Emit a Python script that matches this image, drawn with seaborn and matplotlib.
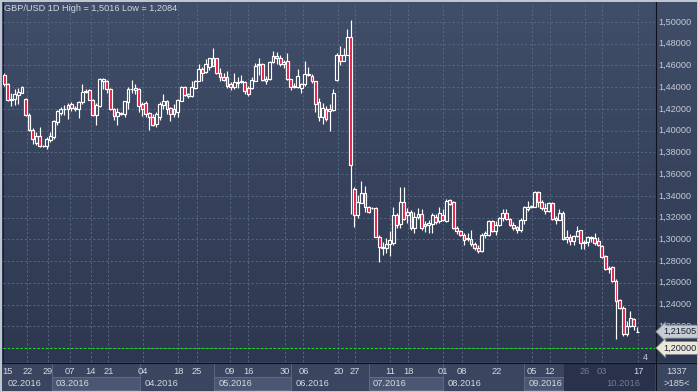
import numpy as np
import pandas as pd
import seaborn as sns
import matplotlib.pyplot as plt
from matplotlib.patches import Rectangle
from matplotlib.colors import LinearSegmentedColormap
from matplotlib.transforms import blended_transform_factory

# GBP/USD daily candles (oldest first)
opens = [
    1.4515, 1.4434, 1.4285, 1.4290, 1.4330, 1.4350, 1.4290, 1.4145, 1.4010, 1.3890,
    1.3950, 1.3862, 1.3860, 1.3910, 1.3940, 1.4080, 1.4160, 1.4195, 1.4200, 1.4245,
    1.4195, 1.4200, 1.4260, 1.4360, 1.4370, 1.4285, 1.4145, 1.4230, 1.4455, 1.4458,
    1.4380, 1.4200, 1.4137, 1.4165, 1.4150, 1.4260, 1.4380, 1.4370, 1.4385, 1.4245,
    1.4250, 1.4160, 1.4130, 1.4060, 1.4130, 1.4240, 1.4275, 1.4205, 1.4150, 1.4175,
    1.4275, 1.4400, 1.4335, 1.4320, 1.4395, 1.4460, 1.4565, 1.4540, 1.4590, 1.4595,
    1.4665, 1.4535, 1.4495, 1.4490, 1.4425, 1.4405, 1.4440, 1.4450, 1.4450, 1.4395,
    1.4395, 1.4460, 1.4605, 1.4610, 1.4460, 1.4480, 1.4635, 1.4690, 1.4665, 1.4610,
    1.4645, 1.4475, 1.4405, 1.4405, 1.4390, 1.4425, 1.4510, 1.4505, 1.4455, 1.4265,
    1.4125, 1.4200, 1.4180, 1.4190, 1.4470, 1.4700, 1.4645, 1.4700, 1.4860, 1.3465,
    1.3220, 1.3333, 1.3425, 1.3302, 1.3287, 1.3287, 1.3026, 1.2919, 1.2919, 1.2955,
    1.2965, 1.3226, 1.3140, 1.3342, 1.3226, 1.3250, 1.3103, 1.3201, 1.3232, 1.3127,
    1.3133, 1.3140, 1.3210, 1.3170, 1.3225, 1.3165, 1.3360, 1.3340, 1.3104, 1.3074,
    1.3043, 1.3000, 1.3003, 1.2961, 1.2922, 1.2891, 1.3040, 1.3043, 1.3165, 1.3074,
    1.3135, 1.3196, 1.3241, 1.3187, 1.3135, 1.3110, 1.3083, 1.3180, 1.3278, 1.3295,
    1.3302, 1.3440, 1.3348, 1.3287, 1.3257, 1.3333, 1.3196, 1.3180, 1.3241, 1.3000,
    1.3022, 1.2982, 1.3028, 1.3083, 1.2964, 1.2973, 1.3013, 1.3013, 1.2982, 1.2942,
    1.2845, 1.2735, 1.2747, 1.2616, 1.2442, 1.2372, 1.2128, 1.2204, 1.2265, 1.2148,
]
highs = [
    1.4530, 1.4440, 1.4350, 1.4380, 1.4395, 1.4410, 1.4300, 1.4160, 1.4020, 1.3990,
    1.4035, 1.3870, 1.3940, 1.3990, 1.4100, 1.4190, 1.4220, 1.4235, 1.4250, 1.4260,
    1.4225, 1.4275, 1.4430, 1.4380, 1.4380, 1.4295, 1.4250, 1.4485, 1.4486, 1.4470,
    1.4395, 1.4205, 1.4205, 1.4170, 1.4275, 1.4400, 1.4470, 1.4430, 1.4395, 1.4265,
    1.4270, 1.4170, 1.4150, 1.4170, 1.4260, 1.4340, 1.4280, 1.4220, 1.4245, 1.4290,
    1.4410, 1.4410, 1.4350, 1.4455, 1.4470, 1.4615, 1.4590, 1.4655, 1.4670, 1.4760,
    1.4670, 1.4580, 1.4530, 1.4545, 1.4450, 1.4535, 1.4495, 1.4510, 1.4455, 1.4410,
    1.4490, 1.4625, 1.4670, 1.4625, 1.4500, 1.4640, 1.4735, 1.4725, 1.4700, 1.4650,
    1.4715, 1.4480, 1.4440, 1.4565, 1.4435, 1.4645, 1.4585, 1.4525, 1.4460, 1.4305,
    1.4250, 1.4230, 1.4245, 1.4385, 1.4715, 1.4775, 1.4760, 1.4940, 1.5016, 1.3480,
    1.3410, 1.3533, 1.3487, 1.3310, 1.3295, 1.3293, 1.3040, 1.2980, 1.3010, 1.3078,
    1.3293, 1.3241, 1.3477, 1.3477, 1.3287, 1.3272, 1.3256, 1.3287, 1.3281, 1.3170,
    1.3180, 1.3241, 1.3232, 1.3300, 1.3280, 1.3370, 1.3370, 1.3357, 1.3120, 1.3090,
    1.3058, 1.3058, 1.3088, 1.2973, 1.2952, 1.3058, 1.3080, 1.3174, 1.3180, 1.3165,
    1.3210, 1.3278, 1.3278, 1.3196, 1.3155, 1.3125, 1.3196, 1.3308, 1.3357, 1.3320,
    1.3449, 1.3449, 1.3360, 1.3333, 1.3339, 1.3339, 1.3211, 1.3278, 1.3257, 1.3083,
    1.3052, 1.3043, 1.3119, 1.3089, 1.2998, 1.3034, 1.3028, 1.3058, 1.3022, 1.2952,
    1.2860, 1.2753, 1.2753, 1.2631, 1.2448, 1.2387, 1.2250, 1.2342, 1.2272, 1.2189,
]
lows = [
    1.4415, 1.4270, 1.4230, 1.4240, 1.4245, 1.4345, 1.4135, 1.4000, 1.3880, 1.3870,
    1.3850, 1.3850, 1.3830, 1.3900, 1.3920, 1.4050, 1.4140, 1.4140, 1.4110, 1.4180,
    1.4180, 1.4115, 1.4245, 1.4350, 1.4280, 1.4135, 1.4050, 1.4215, 1.4379, 1.4350,
    1.4190, 1.4100, 1.4055, 1.4140, 1.4125, 1.4200, 1.4350, 1.4340, 1.4170, 1.4135,
    1.4130, 1.4010, 1.4040, 1.4035, 1.4100, 1.4195, 1.4155, 1.4090, 1.4130, 1.4125,
    1.4275, 1.4320, 1.4300, 1.4310, 1.4380, 1.4455, 1.4455, 1.4535, 1.4560, 1.4595,
    1.4525, 1.4455, 1.4455, 1.4395, 1.4370, 1.4380, 1.4390, 1.4440, 1.4340, 1.4320,
    1.4380, 1.4455, 1.4510, 1.4455, 1.4430, 1.4470, 1.4625, 1.4610, 1.4595, 1.4580,
    1.4465, 1.4375, 1.4390, 1.4390, 1.4350, 1.4415, 1.4500, 1.4435, 1.4175, 1.4085,
    1.4060, 1.4090, 1.4000, 1.4185, 1.4460, 1.4600, 1.4640, 1.4695, 1.3229, 1.3110,
    1.3200, 1.3330, 1.3256, 1.3241, 1.3280, 1.3017, 1.2796, 1.2857, 1.2873, 1.2851,
    1.2950, 1.3103, 1.3103, 1.3180, 1.3149, 1.3087, 1.3057, 1.3189, 1.3087, 1.3072,
    1.3057, 1.3057, 1.3140, 1.3150, 1.3165, 1.3156, 1.3320, 1.3095, 1.3052, 1.3028,
    1.2952, 1.2985, 1.2940, 1.2900, 1.2870, 1.2882, 1.3010, 1.3034, 1.3065, 1.3043,
    1.3120, 1.3165, 1.3180, 1.3120, 1.3089, 1.3062, 1.3068, 1.3144, 1.3259, 1.3285,
    1.3296, 1.3296, 1.3272, 1.3235, 1.3248, 1.3180, 1.3144, 1.3174, 1.2991, 1.2967,
    1.2952, 1.2952, 1.3022, 1.2912, 1.2912, 1.2937, 1.2973, 1.2952, 1.2937, 1.2827,
    1.2717, 1.2692, 1.2607, 1.2084, 1.2357, 1.2113, 1.2113, 1.2189, 1.2168, 1.2143,
]
closes = [
    1.4434, 1.4280, 1.4295, 1.4335, 1.4360, 1.4400, 1.4145, 1.4010, 1.3920, 1.3950,
    1.3860, 1.3858, 1.3920, 1.3950, 1.4090, 1.4180, 1.4195, 1.4200, 1.4240, 1.4210,
    1.4205, 1.4265, 1.4355, 1.4365, 1.4285, 1.4145, 1.4235, 1.4475, 1.4477, 1.4382,
    1.4200, 1.4138, 1.4175, 1.4150, 1.4270, 1.4380, 1.4385, 1.4390, 1.4225, 1.4195,
    1.4155, 1.4130, 1.4055, 1.4150, 1.4245, 1.4275, 1.4200, 1.4155, 1.4195, 1.4280,
    1.4400, 1.4330, 1.4320, 1.4400, 1.4455, 1.4565, 1.4530, 1.4615, 1.4665, 1.4670,
    1.4535, 1.4490, 1.4470, 1.4410, 1.4405, 1.4445, 1.4450, 1.4460, 1.4365, 1.4335,
    1.4465, 1.4595, 1.4615, 1.4465, 1.4480, 1.4635, 1.4690, 1.4665, 1.4615, 1.4635,
    1.4475, 1.4405, 1.4407, 1.4505, 1.4425, 1.4525, 1.4525, 1.4455, 1.4245, 1.4125,
    1.4210, 1.4105, 1.4200, 1.4345, 1.4700, 1.4645, 1.4700, 1.4860, 1.3680, 1.3220,
    1.3348, 1.3425, 1.3302, 1.3256, 1.3285, 1.3026, 1.2925, 1.2934, 1.2955, 1.2995,
    1.3226, 1.3133, 1.3342, 1.3189, 1.3250, 1.3103, 1.3210, 1.3232, 1.3103, 1.3140,
    1.3149, 1.3226, 1.3158, 1.3240, 1.3180, 1.3357, 1.3327, 1.3104, 1.3074, 1.3043,
    1.2997, 1.3013, 1.2961, 1.2921, 1.2891, 1.3043, 1.3055, 1.3165, 1.3074, 1.3135,
    1.3196, 1.3241, 1.3187, 1.3135, 1.3104, 1.3085, 1.3180, 1.3296, 1.3302, 1.3310,
    1.3440, 1.3348, 1.3287, 1.3257, 1.3330, 1.3186, 1.3180, 1.3241, 1.3004, 1.3022,
    1.2982, 1.3034, 1.3074, 1.2967, 1.2973, 1.3022, 1.3022, 1.2967, 1.2952, 1.2839,
    1.2729, 1.2725, 1.2616, 1.2433, 1.2372, 1.2128, 1.2204, 1.2272, 1.2204, 1.21505,
]

price_levels = [1.20, 1.22, 1.24, 1.26, 1.28, 1.30, 1.32, 1.34,
                1.36, 1.38, 1.40, 1.42, 1.44, 1.46, 1.48, 1.50]
price_labels = ['1,20000', '1,22000', '1,24000', '1,26000', '1,28000', '1,30000',
                '1,32000', '1,34000', '1,36000', '1,38000', '1,40000', '1,42000',
                '1,44000', '1,46000', '1,48000', '1,50000']

# day ticks (position in candle index units) and their labels
day_pos = [0.8, 6.5, 12.4, 18.6, 24.5, 29.4, 39.3, 49.2, 54.4, 63.8, 69.0, 79.4, 84.6,
           94.5, 99.2, 109.1, 114.2, 124.1, 129.4, 139.3, 149.2, 154.3, 164.2, 169.0, 179.2]
day_labels = ['15', '22', '29', '07', '14', '21', '04', '18', '25', '09', '16', '30', '06',
              '20', '27', '11', '18', '01', '08', '22', '05', '12', '26', '03', '17']

month_labels = ['02.2016', '03.2016', '04.2016', '05.2016', '06.2016',
                '07.2016', '08.2016', '09.2016', '10.2016']
month_edges = [-0.4, 13.4, 38.4, 59.3, 81.1, 103.1, 124.1, 147.0, 168.9, 184.1]

last_price = 1.21505
level_price = 1.20

df = pd.DataFrame({'open': opens, 'high': highs, 'low': lows, 'close': closes})
df['x'] = np.arange(len(df))
df['up'] = df['close'] >= df['open']

sns.set_theme(style='dark')
plt.rcParams['font.family'] = ['Liberation Sans', 'DejaVu Sans']

W, H = 698, 392
fig = plt.figure(figsize=(W / 100, H / 100), dpi=100)

# background / frame axes in pixel units
fax = fig.add_axes([0, 0, 1, 1])
fax.set_xlim(0, W)
fax.set_ylim(H, 0)
fax.axis('off')
grad = np.linspace(0, 1, 256).reshape(-1, 1)
cmap = LinearSegmentedColormap.from_list('bg', ['#414e69', '#2d3850'])
fax.imshow(grad, extent=[0, W, 362, 0], aspect='auto', cmap=cmap, zorder=0)
fax.add_patch(Rectangle((0, 362), W, 30, fc='#3a4660', ec='none', zorder=1))

# main price axes (plot area spans px x 3..655, y 3..362)
ax = fig.add_axes([3 / W, 1 - 362 / H, 652 / W, 359 / H])
ax.set_facecolor('none')
x0, dx = 4.3, 3.536
ax.set_xlim((3 - x0) / dx, (655 - x0) / dx)
s = 0.30 / 326
ax.set_ylim(1.50 - (362 - 22) * s, 1.50 + 19 * s)

ax.set_xticks(day_pos[1:])
ax.set_yticks(price_levels)
ax.tick_params(length=0, labelbottom=False, labelleft=False)
ax.grid(True, color='#5a6782', ls=(0, (2.2, 2.2)), lw=0.7)
for sp in ax.spines.values():
    sp.set_visible(False)

# 1.20 level line
ax.axhline(level_price, color='#22d422', ls=(0, (2.2, 1.6)), lw=0.8, zorder=2)

# wicks and bodies
ax.vlines(df['x'], df['low'], df['high'], color='white', lw=0.85, zorder=3)
bottoms = df[['open', 'close']].min(axis=1)
heights = (df['close'] - df['open']).abs().clip(lower=0.00015)
fills = np.where(df['up'], '#36425b', '#e3173e')
ax.bar(df['x'], heights, bottom=bottoms, width=0.8, color=fills,
       edgecolor='white', linewidth=0.85, zorder=4)

# right price scale
tr_r = blended_transform_factory(fax.transData, ax.transData)
for p, lab in zip(price_levels[1:], price_labels[1:]):
    ax.text(658.5, p, lab, transform=tr_r, ha='left', va='center', fontsize=6.6,
            color='#c3cbd8', clip_on=False, zorder=6)
ax.text(663, last_price, '1,21505', transform=tr_r, ha='left', va='center', fontsize=6.6,
        color='#1c2331', clip_on=False, zorder=8,
        bbox=dict(boxstyle='larrow,pad=0.22', fc='#c6cbd4', ec='#7d8595', lw=0.6))
ax.text(663, level_price, '1,20000', transform=tr_r, ha='left', va='center', fontsize=6.6,
        color='#1c2331', clip_on=False, zorder=8,
        bbox=dict(boxstyle='larrow,pad=0.22', fc='#ebe8d8', ec='#7d8595', lw=0.6))

# separators and outer frame
fax.plot([655.5, 655.5], [0, H], color='#0d121c', lw=0.8, zorder=5)
fax.plot([0, W], [362.5, 362.5], color='#0d121c', lw=0.8, zorder=5)
fax.plot([2.5, 2.5], [0, 362], color='#1a2030', lw=0.8, zorder=5)
fax.add_patch(Rectangle((0.5, 0.5), W - 1, H - 1, fc='none', ec='#c4c9d2', lw=1.4, zorder=6))

# bottom date panel
tr_b = blended_transform_factory(ax.transData, fax.transData)
for i in range(len(month_labels)):
    a, b = month_edges[i], month_edges[i + 1]
    if i % 2 == 1:
        fax.add_patch(Rectangle((a, 377), b - a, 13, transform=tr_b, fc='#4b5772',
                                ec='#66718a', lw=0.6, zorder=2))
    if i > 0:
        fax.plot([a, a], [363, 391], transform=tr_b, color='#5d6884', lw=0.6, zorder=2)
    col = '#747c8f' if i == len(month_labels) - 1 else '#d3d9e3'
    fax.text(a + 1.2, 383.5, month_labels[i], transform=tr_b, ha='left', va='center',
             fontsize=6.7, color=col, zorder=4)

# darker end zone of the date panel
fax.add_patch(Rectangle((564, 363), 91, 28, fc='#29324a', ec='none', zorder=3))

for p, lab in zip(day_pos, day_labels):
    col = '#737b8e' if 158 < p < 175 else '#d3d9e3'
    fax.text(p, 371, lab, transform=tr_b, ha='center', va='center', fontsize=6.7,
             color=col, zorder=4)

fax.text(645, 357.5, '4', ha='center', va='center', fontsize=6.6, color='#c3cbd8', zorder=4)
fax.text(677, 371, '1337', ha='center', va='center', fontsize=6.7, color='#d3d9e3', zorder=4)
fax.text(677, 383.5, '>185<', ha='center', va='center', fontsize=6.7, color='#d3d9e3', zorder=4)

fig.text(4 / W, 1 - 8.5 / H, 'GBP/USD 1D High = 1,5016 Low = 1,2084', ha='left', va='center',
         fontsize=6.6, color='#d0d6e0')

fig.savefig('out.png', dpi=100)
